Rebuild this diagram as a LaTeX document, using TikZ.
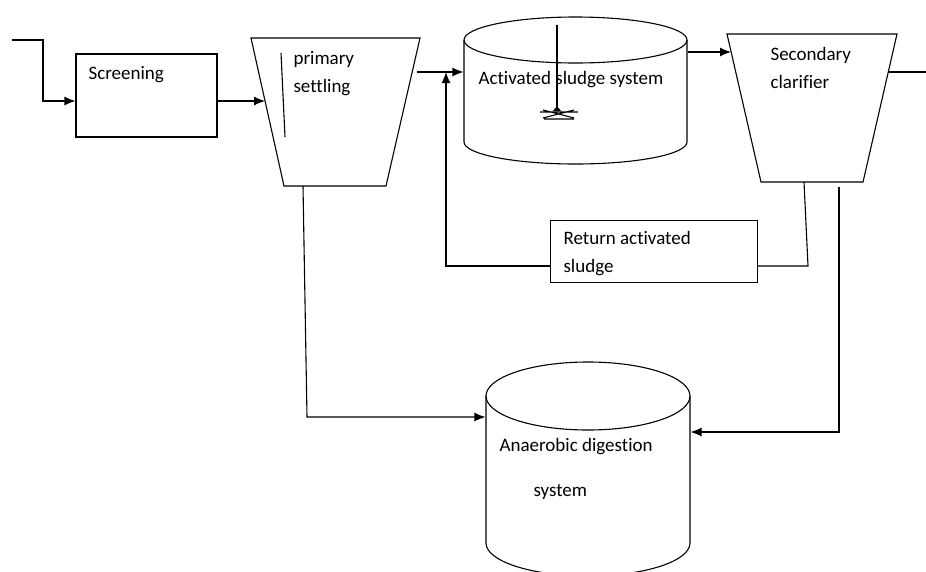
\documentclass[tikz,border=0pt]{standalone}
\usepackage{fontspec}
\setmainfont{Carlito}[Ligatures=NoCommon]
\usetikzlibrary{arrows.meta,calc}

\tikzset{
  flow/.style={-{Latex[length=11pt,width=9pt]}},
  txt/.style={anchor=base west,inner sep=0pt,font=\fontsize{19}{28}\selectfont},
}

\begin{document}
\begin{tikzpicture}[x=1pt,y=-1pt,line width=1.1pt]
            \useasboundingbox (0,0) rectangle (926,571);
            % screening box
            \node (scr) at (146.5,95.5) [draw,minimum width=141pt,minimum height=83pt,inner sep=0pt] {};
            \node (scrT) at (88,79) [txt] {Screening};
            \coordinate (in) at (12,40);
            \coordinate (inC) at (43,40);
            \coordinate (inD) at (43,101);
            % primary settling
            \coordinate (psA) at (251,38);
            \coordinate (psB) at (420,38);
            \coordinate (psC) at (386,186);
            \coordinate (psD) at (284,186);
            \draw (psA) -- (psB) -- (psC) -- (psD) -- cycle;
            \draw (281,53) -- (285,137);
            \node (psT1) at (293,64) [txt] {primary};
            \node (psT2) at (293,92) [txt] {settling};
            \coordinate (psIn) at (265,101);
            \coordinate (psOut) at (417,72);
            \coordinate (psDrain) at (303,186);
            % activated sludge tank
            \node (asp) at (575.5,91) [minimum width=223pt,minimum height=102pt,inner sep=0pt] {};
            \draw (575.5,40) ellipse [x radius=111.5pt,y radius=23pt];
            \draw (464,40) -- (464,142) arc[start angle=180,end angle=360,x radius=111.5pt,y radius=22pt] -- (687,40);
            \draw (557,25) -- (557,110);
            \fill (553,111) -- (561,111) -- (557,106) -- cycle;
            \draw (540,112) -- (578,112) (543,110) -- (574,118) (543,118) -- (574,110) (544,119) -- (574,119);
            \node (aspT) at (478,84) [txt] {Activated sludge system};
            % secondary clarifier
            \coordinate (scA) at (727,34);
            \coordinate (scB) at (897,34);
            \coordinate (scC) at (863,182);
            \coordinate (scD) at (761,182);
            \draw (scA) -- (scB) -- (scC) -- (scD) -- cycle;
            \node (scT1) at (770,60) [txt] {Secondary};
            \node (scT2) at (770,88) [txt] {clarifier};
            \coordinate (scIn) at (731,52);
            \coordinate (scOut) at (889,72);
            \coordinate (out) at (926,72);
            \coordinate (scRet) at (804,182);
            \coordinate (scWas) at (839,187);
            % return activated sludge
            \node (ras) at (654,251.5) [draw,minimum width=207pt,minimum height=62pt,inner sep=0pt] {};
            \node (rasT1) at (563,244) [txt] {Return activated};
            \node (rasT2) at (563,272) [txt] {sludge};
            \coordinate (rasR) at (808,266);
            \coordinate (rasL) at (446,266);
            % anaerobic digester
            \node (ad) at (588,470) [minimum width=204pt,minimum height=147pt,inner sep=0pt] {};
            \draw (588,396) ellipse [x radius=102pt,y radius=34pt];
            \draw (486,396) -- (486,543) arc[start angle=180,end angle=360,x radius=102pt,y radius=33pt] -- (690,396);
            \node (adT1) at (499,451) [txt] {Anaerobic digestion};
            \node (adT2) at (533,496) [txt] {system};
            \coordinate (psLow) at (307,417);
            \coordinate (scLow) at (839,432);
            % flows
            \draw[flow] (in) -- (inC) -- (inD) -- (scr.west |- inD);
            \draw[flow] (scr.east |- psIn) -- (psIn);
            \draw[flow] (psOut) -- (asp.west |- psOut);
            \draw[flow] (asp.east |- scIn) -- (scIn);
            \draw (scOut) -- (out);
            \draw (scRet) -- (rasR) -- (ras.east |- rasR);
            \draw[flow] (ras.west |- rasL) -- (rasL) -- (rasL |- psOut);
            \draw[flow] (psDrain) -- (psLow) -- (ad.west |- psLow);
            \draw[flow] (scWas) -- (scLow) -- (ad.east |- scLow);
\end{tikzpicture}
\end{document}
